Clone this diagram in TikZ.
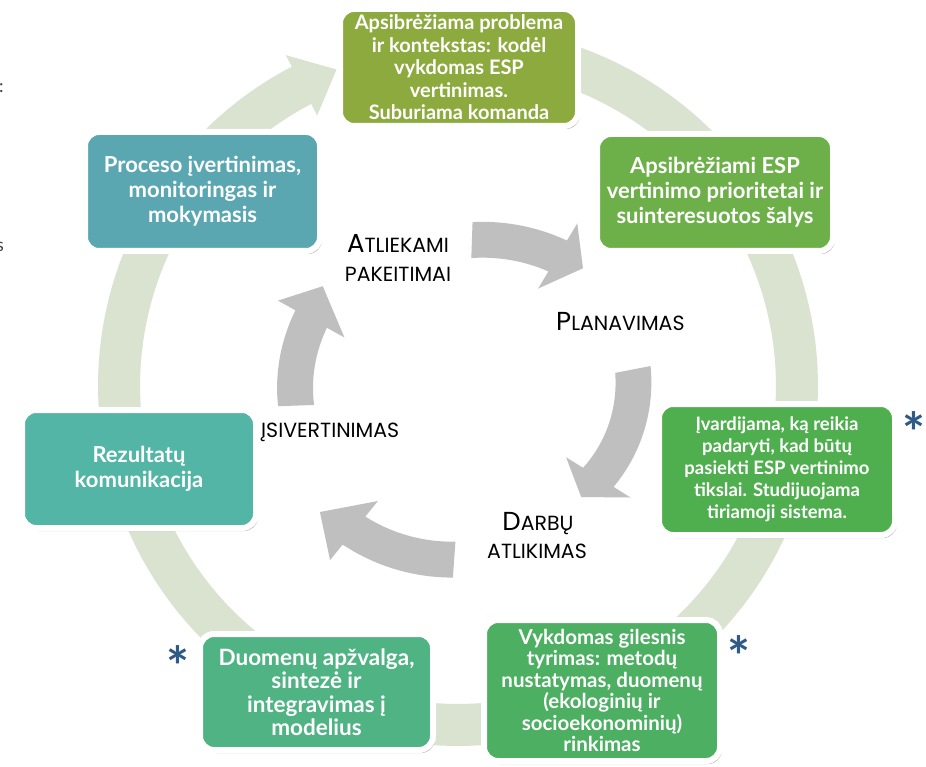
\documentclass[tikz,border=0pt]{standalone}
\usepackage{fontspec}
\setmainfont{Lato}
\newfontfamily\lblfont{Poppins}
\usetikzlibrary{shadows}
\definecolor{ringc}{HTML}{DAE2D0}
\definecolor{grayc}{HTML}{BFBFBF}
\definecolor{cA}{HTML}{8DAA3E}
\definecolor{cB}{HTML}{6DB04A}
\definecolor{cC}{HTML}{5AA7B2}
\definecolor{cD}{HTML}{4FAF4F}
\definecolor{cE}{HTML}{4CAF62}
\definecolor{cF}{HTML}{4FB383}
\definecolor{cG}{HTML}{52B5A5}
\definecolor{starc}{HTML}{2E5A87}
% #1 tail angle, #2 head-base angle, #3 tip angle, #4 tip radial offset,
% #5 samples, #6 radial offset reached at the head base
\newcommand\myarrow[6]{%
 \fill plot[domain=#1:#2, samples=#5] ({\myCX+(\myRX+\myW/2+(#6)*(\x-(#1))/((#2)-(#1)))*cos(\x)},{\myCY-(\myRY+\myW/2+(#6)*(\x-(#1))/((#2)-(#1)))*sin(\x)})
 -- ({\myCX+(\myRX+(#6)+\myHW/2)*cos(#2)},{\myCY-(\myRY+(#6)+\myHW/2)*sin(#2)})
 -- ({\myCX+(\myRX+(#4))*cos(#3)},{\myCY-(\myRY+(#4))*sin(#3)})
 -- ({\myCX+(\myRX+(#6)-\myHW/2)*cos(#2)},{\myCY-(\myRY+(#6)-\myHW/2)*sin(#2)})
 -- plot[domain=#2:#1, samples=#5] ({\myCX+(\myRX-\myW/2+(#6)*(\x-(#1))/((#2)-(#1)))*cos(\x)},{\myCY-(\myRY-\myW/2+(#6)*(\x-(#1))/((#2)-(#1)))*sin(\x)})
 -- cycle;}
\tikzset{
 box/.style={rounded corners=14pt, draw=white, line width=6pt, align=center,
   text=white, inner sep=0pt, font=\bfseries\fontsize{22}{25}\selectfont,
   drop shadow={shadow xshift=2pt, shadow yshift=-3pt, opacity=0.3, fill=black}},
 lbl/.style={anchor=base, inner sep=0pt, text=black, font=\lblfont\fontsize{20.5}{22}\selectfont},
 star/.style={anchor=base, inner sep=0pt, text=starc, font=\bfseries\fontsize{54}{54}\selectfont},
}
\newcommand\myBigCap[1]{{\fontsize{26}{26}\selectfont #1}}
\begin{document}
\begin{tikzpicture}[x=1pt,y=-1pt]
\fill[white] (0,0) rectangle (926,767);
\useasboundingbox (0,0) rectangle (926,767);
% outer ring
\def\myCX{458}\def\myCY{386}\def\myRX{339}\def\myRY{339}\def\myW{42}\def\myHW{68}
\begin{scope}[fill=ringc]
\myarrow{80}{-242.5}{-249}{0}{160}{0}
\end{scope}
% inner gray arrows
\def\myCX{466}\def\myCY{400}\def\myRX{170}\def\myRY{160}\def\myW{36}\def\myHW{76}
\begin{scope}[fill=grayc]
\myarrow{88}{59}{50}{12}{40}{8}
\myarrow{11}{-32}{-42}{-15}{40}{-14}
\myarrow{-94}{-129}{-141}{18}{40}{8}
\myarrow{182}{151}{140}{17}{40}{7}
\end{scope}
% inner labels
\node[lbl] (l1) at (398,253) {\myBigCap{A}TLIEKAMI};
\node[lbl] (l2) at (398,282) {PAKEITIMAI};
\node[lbl, anchor=base west] (l3) at (556,330) {\myBigCap{P}LANAVIMAS};
\node[lbl, anchor=base west] (l4) at (261,437) {ĮSIVERTINIMAS};
\node[lbl] (l5) at (538,530) {\myBigCap{D}ARBŲ};
\node[lbl] (l6) at (537,558) {ATLIKIMAS};
% boxes
\node[box, fill=cA, minimum width=238pt, minimum height=117pt, font=\bfseries\fontsize{20}{22.5}\selectfont] (b1) at (459,67.5)
 {Apsibrėžiama problema\\ ir kontekstas: kodėl\\ vykdomas ESP\\ vertinimas.\\ Suburiama komanda};
\node[box, fill=cB, minimum width=236pt, minimum height=117pt] (b2) at (715,192.5)
 {Apsibrėžiami ESP\\ vertinimo prioritetai ir\\ suinteresuotos šalys};
\node[box, fill=cC, minimum width=235pt, minimum height=119pt] (b3) at (202.5,191.5)
 {Proceso įvertinimas,\\ monitoringas ir\\ mokymasis};
\node[box, fill=cD, minimum width=236pt, minimum height=131pt, font=\bfseries\fontsize{18.5}{22}\selectfont] (b4) at (777,469.5)
 {Įvardijama, ką reikia\\ padaryti, kad būtų\\ pasiekti ESP vertinimo\\ tikslai. Studijuojama\\ tiriamoji sistema.};
\node[box, fill=cE, minimum width=236pt, minimum height=141pt, font=\bfseries\fontsize{20.5}{21.5}\selectfont] (b5) at (602,690.5)
 {Vykdomas gilesnis\\ tyrimas: metodų\\ nustatymas, duomenų\\ (ekologinių ir\\ socioekonominių)\\ rinkimas};
\node[box, fill=cF, minimum width=233pt, minimum height=116pt, font=\bfseries\fontsize{22.5}{23.5}\selectfont] (b6) at (316.5,692)
 {Duomenų apžvalga,\\ sintezė ir\\ integravimas į\\ modelius};
\node[box, fill=cG, minimum width=234pt, minimum height=118pt] (b7) at (139,469)
 {Rezultatų\\ komunikacija};
% asterisks
\node[star] (s1) at (914,452) {*};
\node[star] (s2) at (739,676) {*};
\node[star] (s3) at (178,686) {*};
% cut-off text at left edge
\node[anchor=base west, inner sep=0pt, text=black!75, font=\fontsize{18}{18}\selectfont] (e1) at (-1,93) {:};
\node[anchor=base east, inner sep=0pt, text=black!75, font=\fontsize{18}{18}\selectfont] (e2) at (4,252) {s};
\end{tikzpicture}
\end{document}
